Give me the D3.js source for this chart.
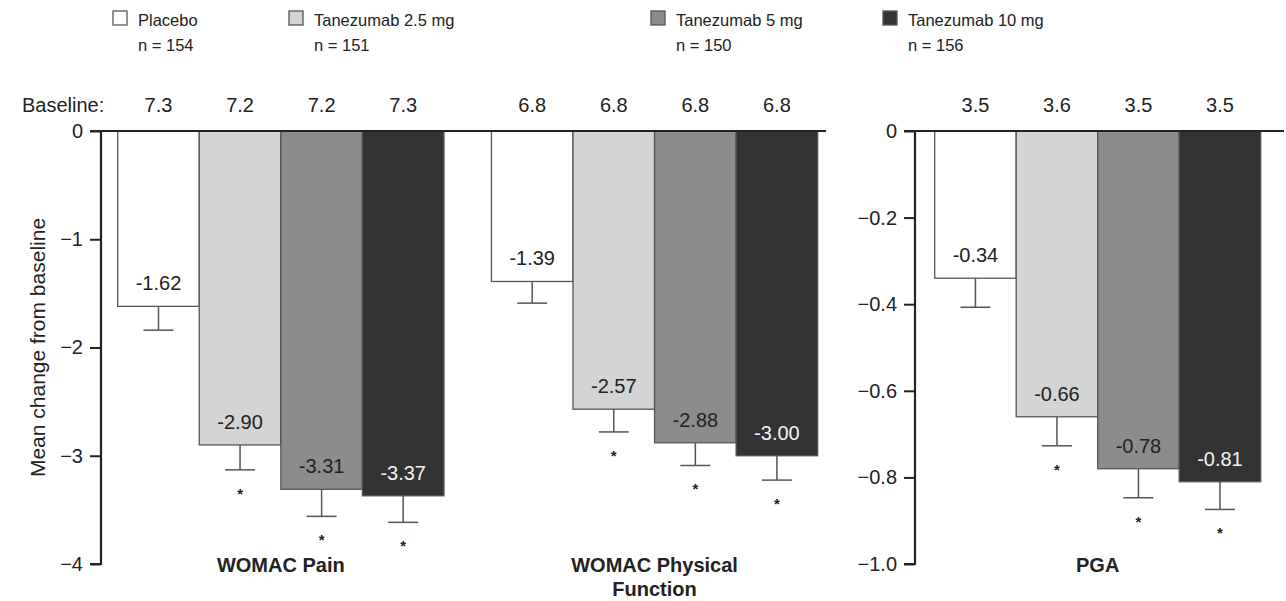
<!DOCTYPE html>
<html>
<head>
<meta charset="utf-8">
<script src="https://cdn.jsdelivr.net/npm/d3@7/dist/d3.min.js"></script>
<style>
  html, body { margin: 0; padding: 0; background: #fff; }
  svg text { font-family: "Liberation Sans", Arial, Helvetica, sans-serif; fill: #222; }
</style>
</head>
<body>
<svg id="chart" width="1286" height="601"></svg>
<script>
// Treatment arms
const series = ["Placebo", "Tanezumab 2.5 mg", "Tanezumab 5 mg", "Tanezumab 10 mg"];
const sampleSizes = [154, 151, 150, 156];
const fills = ["#ffffff", "#d4d4d4", "#8c8c8c", "#333333"];
const labelColors = ["#222", "#222", "#222", "#f2f2f2"];

// Outcomes: two WOMAC subscales on the left axis, PGA on the right axis
const womacGroups = ["WOMAC Pain", "WOMAC Physical Function"];
const womacMeans = [
  [-1.62, -2.90, -3.31, -3.37],
  [-1.39, -2.57, -2.88, -3.00]
];
const womacSE = [
  [0.22, 0.23, 0.25, 0.245],
  [0.20, 0.21, 0.21, 0.225]
];
const womacBaseline = [
  ["7.3", "7.2", "7.2", "7.3"],
  ["6.8", "6.8", "6.8", "6.8"]
];
const womacSignificant = [
  [false, true, true, true],
  [false, true, true, true]
];

const pgaGroup = ["PGA"];
const pgaMeans = [[-0.34, -0.66, -0.78, -0.81]];
const pgaSE = [[0.067, 0.067, 0.067, 0.064]];
const pgaBaseline = [["3.5", "3.6", "3.5", "3.5"]];
const pgaSignificant = [[false, true, true, true]];

const womacTicks = [0, -1, -2, -3, -4];
const pgaTicks = [0, -0.2, -0.4, -0.6, -0.8, -1.0];

const svg = d3.select("#chart");
const FS = 20;          // chart text
const LEG_FS = 16.5;    // legend text
const yTop = 131, yBottom = 564;

// y scales
const yWomac = d3.scaleLinear().domain([0, -4]).range([yTop, yBottom]);
const yPga = d3.scaleLinear().domain([0, -1]).range([yTop, yBottom]);

// x scales
const xWomac = d3.scaleBand().domain(womacGroups).range([117.7, 817.7]).paddingInner(0.127).paddingOuter(0);
const xPga = d3.scaleBand().domain(pgaGroup).range([934.7, 1260.7]).paddingInner(0).paddingOuter(0);
const xInner = d3.scaleBand().domain(series).paddingInner(0).paddingOuter(0);

function drawPanel(opts) {
  const { axisX, lineEnd, x, y, groups, means, se, baseline, sig, ticks, tickFmt } = opts;
  const g = svg.append("g");

  groups.forEach((grp, gi) => {
    const inner = xInner.copy().range([x(grp), x(grp) + x.bandwidth()]);
    const bw = inner.bandwidth();
    series.forEach((s, si) => {
      const v = means[gi][si];
      const x0 = inner(s);
      const cx = x0 + bw / 2;
      const yb = y(v);
      const ye = y(v - se[gi][si]);
      // error bar: stem and cap below the bar end
      g.append("line").attr("x1", cx).attr("x2", cx).attr("y1", yb).attr("y2", ye)
        .attr("stroke", "#555").attr("stroke-width", 1.5);
      g.append("line").attr("x1", cx - 15).attr("x2", cx + 15).attr("y1", ye).attr("y2", ye)
        .attr("stroke", "#555").attr("stroke-width", 1.5);
      g.append("rect").attr("x", x0).attr("y", y(0)).attr("width", bw).attr("height", yb - y(0))
        .attr("fill", fills[si]).attr("stroke", "#555").attr("stroke-width", 1.3);
      g.append("text").attr("x", cx).attr("y", yb - 16).attr("text-anchor", "middle")
        .attr("font-size", FS).style("fill", labelColors[si]).text(d3.format(".2f")(v).replace("−", "-"));
      if (sig[gi][si]) {
        g.append("text").attr("x", cx).attr("y", ye + 29).attr("text-anchor", "middle")
          .attr("font-size", 15).style("font-weight", "bold").text("*");
      }
      g.append("text").attr("x", cx).attr("y", 112).attr("text-anchor", "middle")
        .attr("font-size", FS).text(baseline[gi][si]);
    });
    // group title (wraps onto two lines for the longer name)
    const words = grp === "WOMAC Physical Function" ? ["WOMAC Physical", "Function"] : [grp];
    const tcx = x(grp) + x.bandwidth() / 2;
    words.forEach((w, wi) => {
      g.append("text").attr("x", tcx).attr("y", 572 + wi * 24).attr("text-anchor", "middle")
        .attr("font-size", FS).style("font-weight", "bold").text(w);
    });
  });

  // zero reference line
  g.append("line").attr("x1", axisX).attr("x2", lineEnd).attr("y1", y(0)).attr("y2", y(0))
    .attr("stroke", "#222").attr("stroke-width", 2.2);

  // y axis
  const axis = d3.axisLeft(y).tickValues(ticks).tickSize(11).tickPadding(7).tickFormat(tickFmt);
  const ag = g.append("g").attr("transform", `translate(${axisX},0)`).call(axis);
  ag.select(".domain").attr("stroke", "#222").attr("stroke-width", 2.2)
    .attr("d", `M-11,${y(0)}H0V${yBottom}H-11`);
  ag.selectAll(".tick line").attr("stroke", "#222").attr("stroke-width", 2);
  ag.selectAll(".tick text").attr("font-size", FS).style("font-family", '"Liberation Sans", Arial, sans-serif').style("fill", "#222");
}

drawPanel({
  axisX: 101, lineEnd: 826, x: xWomac, y: yWomac, groups: womacGroups,
  means: womacMeans, se: womacSE, baseline: womacBaseline, sig: womacSignificant,
  ticks: womacTicks, tickFmt: d3.format("d")
});
drawPanel({
  axisX: 915, lineEnd: 1284, x: xPga, y: yPga, groups: pgaGroup,
  means: pgaMeans, se: pgaSE, baseline: pgaBaseline, sig: pgaSignificant,
  ticks: pgaTicks, tickFmt: d => d === 0 ? "0" : d3.format(".1f")(d)
});

svg.append("text").attr("x", 22).attr("y", 112).attr("font-size", FS).text("Baseline:");

// y axis title
svg.append("text").attr("transform", `translate(45,${(yTop + yBottom) / 2}) rotate(-90)`)
  .attr("text-anchor", "middle").attr("font-size", 21).text("Mean change from baseline");

// legend
const legendX = [112, 288, 650, 882];
const legend = svg.append("g");
series.forEach((s, i) => {
  legend.append("rect").attr("x", legendX[i] + 1).attr("y", 11).attr("width", 14).attr("height", 14)
    .attr("fill", fills[i]).attr("stroke", "#555").attr("stroke-width", 1.3);
  legend.append("text").attr("x", legendX[i] + 26).attr("y", 26).attr("font-size", LEG_FS).text(s);
  legend.append("text").attr("x", legendX[i] + 26).attr("y", 51).attr("font-size", LEG_FS).text(`n = ${sampleSizes[i]}`);
});
</script>
</body>
</html>
